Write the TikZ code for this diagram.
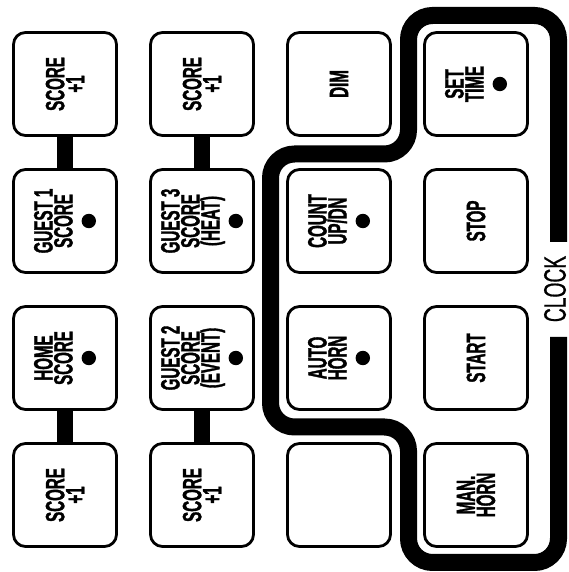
\documentclass[tikz,border=0pt]{standalone}
\usepackage{fontspec}
\usepackage{tikz}
\usetikzlibrary{positioning}
\newfontfamily\keyfont{Liberation Sans Bold}[FakeStretch=0.57,FakeBold=1.2]
\newfontfamily\clockfont{Liberation Sans}[FakeStretch=0.62,FakeBold=0.6]
\newcommand{\ledmark}{\tikz[baseline=-3.7pt]\fill (0,0) circle (7.2pt);}
\tikzset{
  key/.style={draw=black,line width=2.8pt,rounded corners=12pt,fill=white,
    minimum size=103pt,inner sep=0pt,outer sep=0pt,align=center,rotate=90,
    font=\keyfont\fontsize{26.5pt}{20pt}\selectfont},
  link/.style={draw=black,line width=16pt},
  clockline/.style={draw=black,line width=17pt,rounded corners=24pt},
  clocklab/.style={rotate=90,inner sep=0pt,font=\clockfont\fontsize{31pt}{31pt}\selectfont},
}

\begin{document}
\begin{tikzpicture}[x=1pt,y=1pt]
  \useasboundingbox (0,0) rectangle (568,572);
  % column 1
  \node[key](sc1) at (65,488){SCORE\\+1};
  \node[key](g1) at (65,351){GUEST 1\\SCORE\\\ledmark};
  \node[key](home) at (65,214){HOME\\SCORE\\\ledmark};
  \node[key](sc2) at (65,77){SCORE\\+1};
  % column 2
  \node[key](sc3) at (202,488){SCORE\\+1};
  \node[key](g3) at (202,351){GUEST 3\\SCORE\\(HEAT)\\\ledmark};
  \node[key](g2) at (202,214){GUEST 2\\SCORE\\(EVENT)\\\ledmark};
  \node[key](sc4) at (202,77){SCORE\\+1};
  % column 3
  \node[key](dim) at (339,488){DIM};
  \node[key](count) at (339,351){COUNT\\UP/DN\\\ledmark};
  \node[key](auto) at (339,214){AUTO\\HORN\\\ledmark};
  \node[key](blank) at (339,77){};
  % column 4
  \node[key](settime) at (476,488){SET\\TIME\\\ledmark};
  \node[key](stop) at (476,351){STOP};
  \node[key](start) at (476,214){START};
  \node[key](horn) at (476,77){MAN.\\HORN};
  \draw[link](sc1)--(g1); \draw[link](home)--(sc2);
  \draw[link](sc3)--(g3); \draw[link](g2)--(sc4);
  % clock group outline
  \draw[clockline](558.5,330)--(558.5,556.5)--(408.5,556.5)--(408.5,418)
    --(270.5,418)--(270.5,145)--(408.5,145)--(408.5,9.5)--(558.5,9.5)--(558.5,235);
  \node[clocklab](clocklabel) at (555,283){CLOCK};
\end{tikzpicture}
\end{document}
